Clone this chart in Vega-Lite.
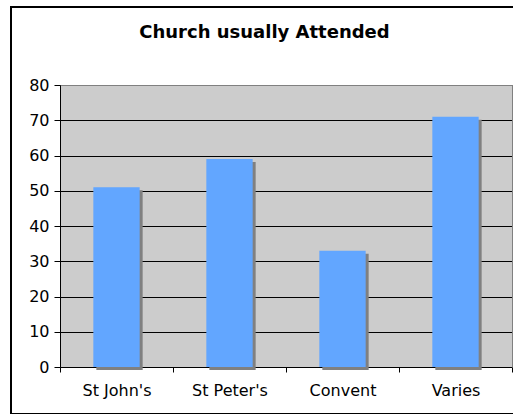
{
  "$schema": "https://vega.github.io/schema/vega-lite/v6.json",
  "width": 507,
  "height": 407,
  "autosize": {"type": "none"},
  "padding": {"left": 11, "top": 7, "right": 0, "bottom": 0},
  "background": "white",
  "title": {
    "text": "Church usually Attended",
    "font": "DejaVu Sans",
    "fontSize": 18,
    "fontWeight": "bold",
    "color": "black",
    "anchor": "middle",
    "baseline": "alphabetic",
    "offset": -49
  },
  "config": {
    "view": {"stroke": "black", "strokeWidth": 2, "fill": "white"},
    "font": "DejaVu Sans"
  },
  "data": {
    "values": [
      {"church": "St John's", "count": 51},
      {"church": "St Peter's", "count": 59},
      {"church": "Convent", "count": 33},
      {"church": "Varies", "count": 71}
    ]
  },
  "resolve": {"axis": {"x": "independent", "y": "independent"}},
  "layer": [
    {
      "mark": {"type": "bar", "width": {"band": 0.41}, "color": "#808080", "xOffset": 3, "yOffset": 3},
      "encoding": {
        "x": {
          "field": "church",
          "type": "nominal",
          "sort": null,
          "scale": {"range": [49, 501], "paddingInner": 0, "paddingOuter": 0},
          "axis": {
            "orient": "top",
            "title": null,
            "labels": false,
            "ticks": false,
            "domain": true,
            "domainColor": "#808080",
            "domainWidth": 1,
            "grid": true,
            "gridColor": "#CCCCCC",
            "gridOpacity": 1,
            "gridWidth": 113,
            "offset": -78
          }
        },
        "y": {
          "field": "count",
          "type": "quantitative",
          "scale": {"domain": [0, 80], "range": [360, 78], "nice": false},
          "axis": {
            "orient": "right",
            "title": null,
            "labels": false,
            "ticks": false,
            "grid": false,
            "domainColor": "#808080",
            "offset": -6
          }
        }
      }
    },
    {
      "mark": {"type": "bar", "width": {"band": 0.41}, "color": "#62A6FF"},
      "encoding": {
        "x": {
          "field": "church",
          "type": "nominal",
          "sort": null,
          "axis": {
            "orient": "bottom",
            "title": null,
            "labelAngle": 0,
            "tickBand": "extent",
            "tickSize": 5,
            "tickColor": "black",
            "domainColor": "black",
            "labelColor": "black",
            "labelFont": "DejaVu Sans",
            "labelFontSize": 16,
            "labelPadding": 10,
            "offset": -47,
            "grid": false
          }
        },
        "y": {
          "field": "count",
          "type": "quantitative",
          "axis": {
            "orient": "left",
            "title": null,
            "values": [0, 10, 20, 30, 40, 50, 60, 70, 80],
            "grid": true,
            "gridColor": "black",
            "gridWidth": 1,
            "gridOpacity": 1,
            "domainColor": "black",
            "tickColor": "black",
            "tickSize": 6,
            "labelColor": "black",
            "labelFont": "DejaVu Sans",
            "labelFontSize": 16,
            "labelPadding": 5,
            "offset": -49
          }
        }
      }
    }
  ]
}
